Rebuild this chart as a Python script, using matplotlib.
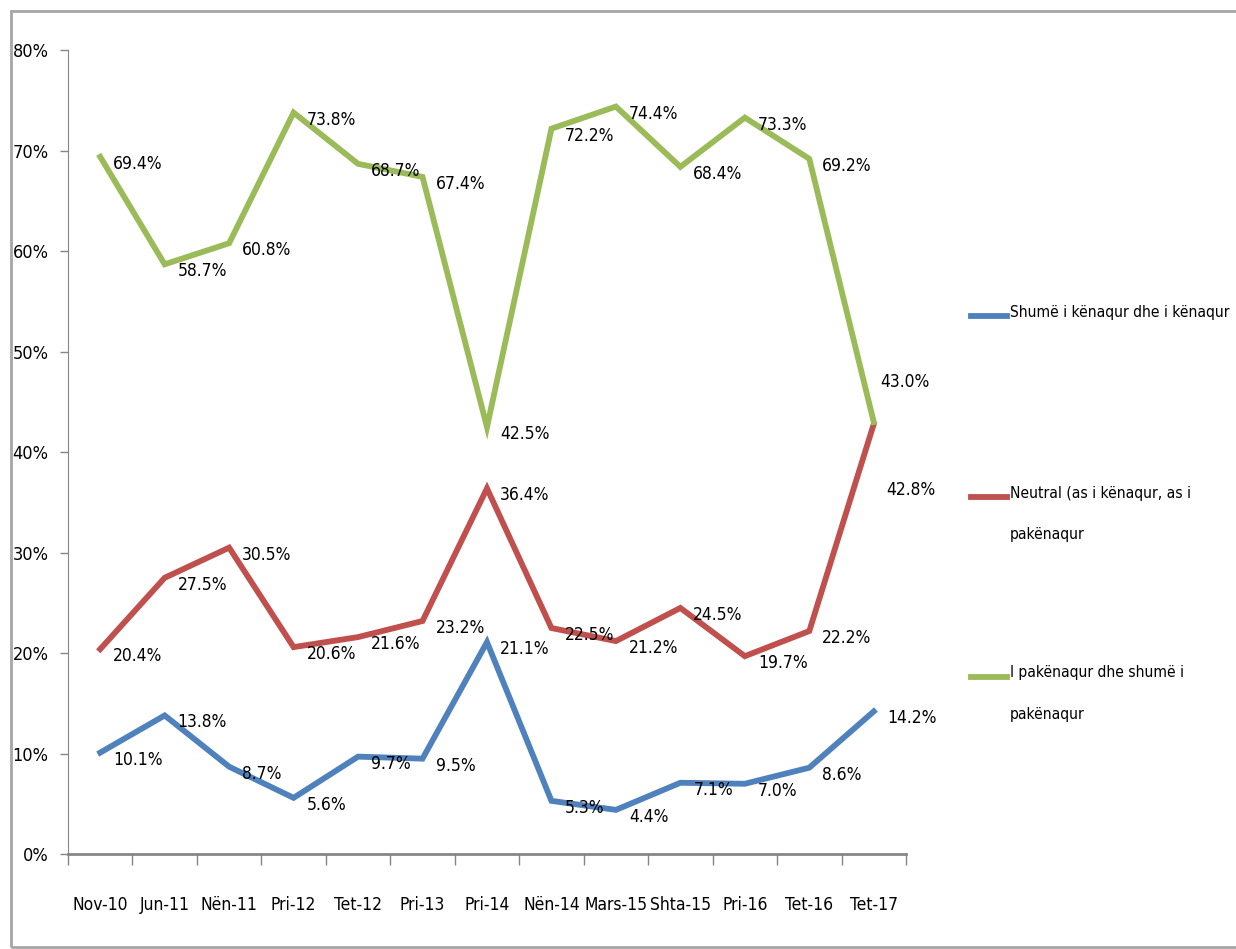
import matplotlib
matplotlib.use("Agg")
import matplotlib.pyplot as plt
from matplotlib import font_manager
from matplotlib.lines import Line2D
from matplotlib.patches import Rectangle

# ---- data ----
periods = ["Nov-10", "Jun-11", "Nën-11", "Pri-12", "Tet-12", "Pri-13", "Pri-14",
           "Nën-14", "Mars-15", "Shta-15", "Pri-16", "Tet-16", "Tet-17"]
satisfied = [10.1, 13.8, 8.7, 5.6, 9.7, 9.5, 21.1, 5.3, 4.4, 7.1, 7.0, 8.6, 14.2]
neutral = [20.4, 27.5, 30.5, 20.6, 21.6, 23.2, 36.4, 22.5, 21.2, 24.5, 19.7, 22.2, 42.8]
unsatisfied = [69.4, 58.7, 60.8, 73.8, 68.7, 67.4, 42.5, 72.2, 74.4, 68.4, 73.3, 69.2, 43.0]
series_names = ["Shumë i kënaqur dhe i kënaqur",
                "Neutral (as i kënaqur, as i\npakënaqur",
                "I pakënaqur dhe shumë i\npakënaqur"]
colors = ["#4F81BD", "#C0504D", "#9BBB59"]
yticks = [0, 10, 20, 30, 40, 50, 60, 70, 80]

# pick a narrow font if there is one
names = {f.name for f in font_manager.fontManager.ttflist}
if "Liberation Sans Narrow" in names:
    FONT = dict(family=["Liberation Sans Narrow", "DejaVu Sans"])
else:
    FONT = dict(family=["DejaVu Sans"], stretch="condensed")
FS = 12.5

fig = plt.figure(figsize=(12.36, 9.49), dpi=100)
ax = fig.add_axes([0.055, 0.100, 0.678, 0.847])

x = list(range(len(periods)))
for vals, c in zip([satisfied, neutral, unsatisfied], colors):
    ax.plot(x, vals, color=c, lw=4.2, solid_joinstyle="miter", zorder=3)

# data labels (to the right of each point)
offsets = {(2, 12): (6, 40), (1, 12): (12, -66)}
for si, vals in enumerate([satisfied, neutral, unsatisfied]):
    for i, v in enumerate(vals):
        dx, dy = offsets.get((si, i), (13, -7))
        ax.annotate(f"{v:.1f}%", (i, v), xytext=(dx, dy), textcoords="offset pixels",
                    ha="left", va="center", fontsize=FS, color="black", zorder=4, **FONT)

ax.set_xlim(-0.5, len(periods) - 0.5)
ax.set_ylim(0, 80)
ax.set_yticks(yticks)
ax.set_yticklabels([f"{t}%" for t in yticks], fontsize=FS + 0.5, **FONT)
ax.set_xticks(x)
ax.set_xticklabels(periods, fontsize=FS, **FONT)
ax.tick_params(axis="x", length=0, pad=30)
ax.set_xticks([i - 0.5 for i in range(len(periods) + 1)], minor=True)
ax.tick_params(axis="x", which="minor", length=8, width=1, color="#868686", direction="out")
ax.tick_params(axis="y", length=6, width=1, color="#868686", pad=8)

for s in ["top", "right"]:
    ax.spines[s].set_visible(False)
ax.spines["left"].set_color("#868686")
ax.spines["bottom"].set_color("#868686")
ax.spines["bottom"].set_linewidth(2)

# legend drawn to the right
leg_y = [0.667, 0.476, 0.287]
for c, name, yy in zip(colors, series_names, leg_y):
    fig.add_artist(Line2D([0.786, 0.815], [yy, yy], transform=fig.transFigure,
                          color=c, lw=4.2))
    fig.text(0.817, yy + 0.012, name, ha="left", va="top", fontsize=11.2,
             linespacing=3.2, **FONT)

# chart border
fig.add_artist(Rectangle((0.009, 0.002), 1.2, 0.986, transform=fig.transFigure,
                         fill=False, edgecolor="#A6A6A6", lw=2))

fig.savefig("out.png", dpi=100)
